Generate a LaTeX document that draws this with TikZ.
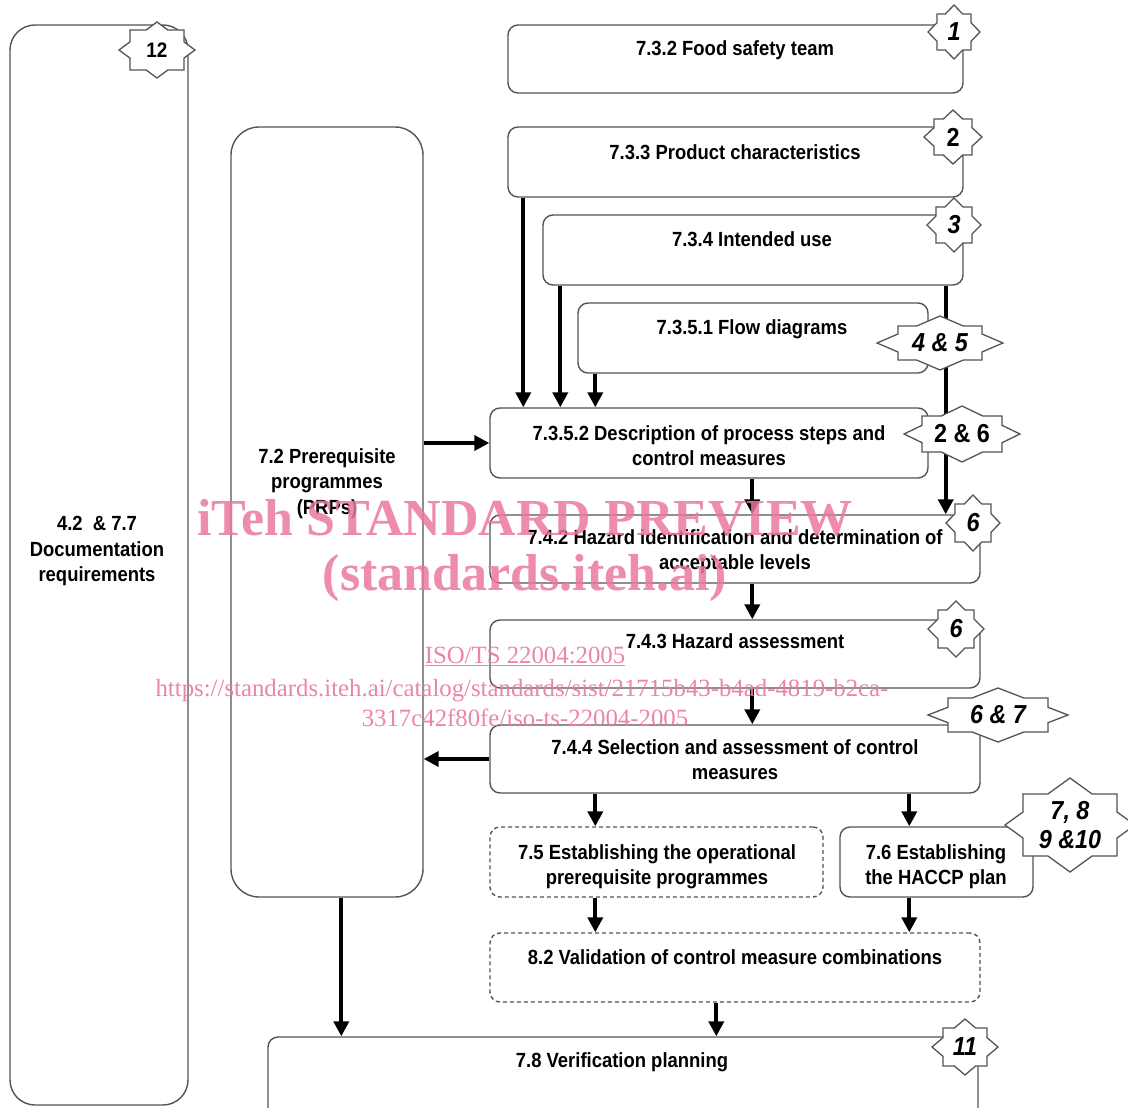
\documentclass[tikz,border=0pt]{standalone}
\usepackage{fontspec}
\setmainfont{Liberation Sans}
\newfontfamily\dfont{Liberation Sans}[FakeStretch=0.9]
\newfontfamily\wfont{Liberation Serif}
\usetikzlibrary{arrows.meta,calc}
\definecolor{boxline}{gray}{0.33}
\definecolor{wm}{RGB}{234,120,158}
\newcommand\bi{\dfont\bfseries\itshape\fontsize{26}{26}\selectfont}
\newcommand\bu{\dfont\bfseries\fontsize{26}{26}\selectfont}
\newcommand\starbadge[8]{%
  \pgfmathsetmacro\bgsx{#6*(1-#5/#7)}%
  \pgfmathsetmacro\bgsy{#7*(1-#4/#6)}%
  \draw[badge,shift={(#2,#3)}] (0,#7) -- (\bgsx,#5) -- (#4,#5) -- (#4,\bgsy) -- (#6,0) -- (#4,-\bgsy) -- (#4,-#5) -- (\bgsx,-#5) -- (0,-#7) -- (-\bgsx,-#5) -- (-#4,-#5) -- (-#4,-\bgsy) -- (-#6,0) -- (-#4,\bgsy) -- (-#4,#5) -- (-\bgsx,#5) -- cycle;
  \node[inner sep=0pt,align=center] (#1) at (#2,#3) {#8};
}
\tikzset{
 box/.style={draw=boxline, line width=1.4pt, rounded corners=10pt, fill=white, inner sep=0pt},
 dbox/.style={box, dash pattern=on 4pt off 3pt},
 lbl/.style={font=\dfont\bfseries\fontsize{20.5}{25.5}\selectfont, align=center, inner sep=0pt, anchor=north},
 arr/.style={line width=4pt, -{Triangle[width=15pt,length=15pt]}},
 badge/.style={draw=boxline, line width=1.3pt, fill=white, line join=miter},
 wmbig/.style={font=\wfont\bfseries\fontsize{52}{56}\selectfont, text=wm, text opacity=0.85, anchor=base, inner sep=0pt},
 wmsmall/.style={font=\wfont\fontsize{24.8}{27}\selectfont, text=wm, text opacity=0.9, anchor=base, inner sep=0pt},
}
\begin{document}
\begin{tikzpicture}[x=1pt,y=-1pt]
\useasboundingbox (0,0) rectangle (1128,1108);
\fill[white] (0,0) rectangle (1128,1108);

% boxes
\node[box, rounded corners=25pt, minimum width=178, minimum height=1080] (doc) at (99,565) {};
\node[box, rounded corners=28pt, minimum width=192, minimum height=770] (prp) at (327,512) {};
\node[box, minimum width=455, minimum height=68] (fst) at (735.5,59) {};
\node[box, minimum width=455, minimum height=70] (pc) at (735.5,162) {};
\node[box, minimum width=420, minimum height=70] (iu) at (753,250) {};
\node[box, minimum width=350, minimum height=70] (fd) at (753,338) {};
\node[box, minimum width=438, minimum height=70] (desc) at (709,443) {};
\node[box, minimum width=490, minimum height=68] (hi) at (735,549) {};
\node[box, minimum width=490, minimum height=68] (ha) at (735,654) {};
\node[box, minimum width=490, minimum height=68] (sel) at (735,759) {};
\node[dbox, minimum width=333, minimum height=70] (op) at (656.5,862) {};
\node[box, minimum width=193, minimum height=70] (hac) at (936.5,862) {};
\node[dbox, minimum width=490, minimum height=69] (val) at (735,967.5) {};
\node[box, minimum width=710, minimum height=93] (vp) at (623,1083.5) {};

% texts
\node[lbl] (tdoc) at (97,516) {4.2~~\& 7.7\\Documentation\\requirements};
\node[lbl] (tprp) at (327,448) {7.2 Prerequisite\\programmes\\(PRPs)};
\node[lbl] (tfst) at (735,40) {7.3.2 Food safety team};
\node[lbl] (tpc) at (735,144) {7.3.3 Product characteristics};
\node[lbl] (tiu) at (752,231) {7.3.4 Intended use};
\node[lbl] (tfd) at (752,319) {7.3.5.1 Flow diagrams};
\node[lbl] (tdesc) at (709,425) {7.3.5.2 Description of process steps and\\control measures};
\node[lbl] (thi) at (735,529) {7.4.2 Hazard identification and determination of\\acceptable levels};
\node[lbl] (tha) at (735,633) {7.4.3 Hazard assessment};
\node[lbl] (tsel) at (735,739) {7.4.4 Selection and assessment of control\\measures};
\node[lbl] (top) at (657,844) {7.5 Establishing the operational\\prerequisite programmes};
\node[lbl] (thac) at (936,844) {7.6 Establishing\\the HACCP plan};
\node[lbl] (tval) at (735,949) {8.2 Validation of control measure combinations};
\node[lbl] (tvp) at (622,1052) {7.8 Verification planning};

% connectors
\coordinate (c1) at ([xshift=16pt]pc.south west);
\coordinate (c2) at ([xshift=18pt]iu.south west);
\coordinate (c3) at ([xshift=18pt]fd.south west);
\coordinate (c4) at ([xshift=-18pt]iu.south east);
\draw[arr] (c1) -- (c1 |- desc.north);
\draw[arr] (c2) -- (c2 |- desc.north);
\draw[arr] (c3) -- (c3 |- desc.north);
\draw[arr] (c4) -- (c4 |- hi.north);
\draw[arr] (prp.east |- desc.west) -- (desc.west);
\coordinate (c5) at ([xshift=263pt]desc.south west);
\draw[arr] (c5) -- (c5 |- hi.north);
\draw[arr] (c5 |- hi.south) -- (c5 |- ha.north);
\draw[arr] (c5 |- ha.south) -- (c5 |- sel.north);
\draw[arr] (sel.west) -- (prp.east |- sel.west);
\coordinate (c6) at ([xshift=106pt]sel.south west);
\coordinate (c7) at ([xshift=420pt]sel.south west);
\draw[arr] (c6) -- (c6 |- op.north);
\draw[arr] (c7) -- (c7 |- hac.north);
\draw[arr] (c6 |- op.south) -- (c6 |- val.north);
\draw[arr] (c7 |- hac.south) -- (c7 |- val.north);
\coordinate (c8) at ([xshift=227pt]val.south west);
\draw[arr] (c8) -- (c8 |- vp.north);
\coordinate (c9) at ([xshift=111pt]prp.south west);
\draw[arr] (c9) -- (c9 |- vp.north);

% badges
\starbadge{b12}{157}{50}{27}{20}{38}{28}{\dfont\bfseries\fontsize{21}{21}\selectfont 12}
\starbadge{b1}{954}{32}{17}{18}{26}{27}{\bi 1}
\starbadge{b2}{953}{137}{19}{18}{29}{27}{\bu 2}
\starbadge{b3}{954}{225}{18}{18}{27}{27}{\bi 3}
\starbadge{b45}{940}{343}{42}{17}{63}{27}{\bi 4 \& 5}
\starbadge{b26}{962}{434}{40}{18}{58}{28}{\bu 2 \& 6}
\starbadge{b6a}{973}{523}{18}{19}{27}{28}{\bi 6}
\starbadge{b6b}{956}{629}{18}{19}{28}{28}{\bi 6}
\starbadge{b67}{998}{715}{50}{17}{70}{27}{\bi 6 \& 7}
\starbadge{b710}{1070}{825}{47}{31}{65}{47}{\bi 7,~8\\[5pt]\bi 9 \&10}
\starbadge{b11}{965}{1047}{22}{19}{33}{28}{\bi 11}

% watermark
\node[wmbig] (w1) at (525,535) {iTeh STANDARD PREVIEW};
\node[wmbig] (w2) at (525,590) {(standards.iteh.ai)};
\node[wmsmall] (w3) at (525,663) {\underline{ISO/TS 22004:2005}};
\node[wmsmall] (w4) at (522,696) {https://standards.iteh.ai/catalog/standards/sist/21715b43-b4ad-4819-b2ca-};
\node[wmsmall] (w5) at (525,726) {3317c42f80fe/iso-ts-22004-2005};
\end{tikzpicture}
\end{document}
